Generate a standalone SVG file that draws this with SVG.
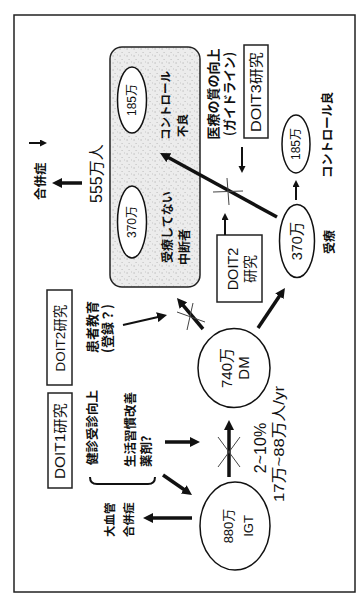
<svg xmlns="http://www.w3.org/2000/svg" width="361" height="596" viewBox="0 0 361 596">
<style>
.t{font-family:"Liberation Sans","Noto Sans CJK JP",sans-serif;fill:#111;dominant-baseline:central}
.j{font-family:"Noto Sans CJK JP",sans-serif;fill:#111;font-weight:700;dominant-baseline:central}
.c{text-anchor:middle}
.box{fill:#fff;stroke:#222;stroke-width:1.5}
.el{fill:#fff;stroke:#111;stroke-width:1.5}
.thick{stroke:#111;stroke-width:3.5;fill:none}
.thin{stroke:#111;stroke-width:2;fill:none}
.x{stroke:#444;stroke-width:1;fill:none}
</style>
<defs>
<pattern id="stip" width="7" height="7" patternUnits="userSpaceOnUse">
<rect width="7" height="7" fill="#ececec"/>
<circle cx="1" cy="1" r="0.6" fill="#999"/>
<circle cx="4.5" cy="3" r="0.5" fill="#aaa"/>
<circle cx="2" cy="5.5" r="0.5" fill="#bbb"/>
</pattern>
<marker id="ah" markerUnits="userSpaceOnUse" markerWidth="11" markerHeight="10" refX="2" refY="5" orient="auto">
<path d="M0,0 L10,5 L0,10 z" fill="#111"/>
</marker>
<marker id="as" markerUnits="userSpaceOnUse" markerWidth="8" markerHeight="8" refX="1" refY="3.5" orient="auto">
<path d="M0,0 L7,3.5 L0,7 z" fill="#111"/>
</marker>
</defs>
<rect width="361" height="596" fill="#fff"/>
<g transform="translate(0,596) rotate(-90)">
<rect id="frame" x="4" y="14" width="577" height="341" fill="none" stroke="#222" stroke-width="1.5"/>

<g id="untreated-group">
<rect x="309" y="110" width="240" height="90" rx="12" fill="url(#stip)" stroke="#222" stroke-width="1.5"/>
</g>
<g id="poor-control">
<ellipse class="el" cx="496" cy="132" rx="33" ry="14.5"/>
<text class="t c" x="496" y="132" font-size="12">185万</text>
<text class="j" x="456" y="165" font-size="11.5">コントロール</text>
<text class="j" x="459" y="182" font-size="11.5">不良</text>
</g>
<g id="not-treated">
<ellipse class="el" cx="374" cy="132" rx="36" ry="14.5"/>
<text class="t c" x="374" y="132" font-size="12">370万</text>
<text class="j" x="333" y="166" font-size="12">受療してない</text>
<text class="j" x="331" y="183" font-size="12">中断者</text>
</g>
<g id="total555">
<text class="t" x="393" y="96" font-size="16">555万人</text>
</g>
<g id="complications">
<text class="j" x="396" y="39" font-size="12.5">合併症</text>
</g>
<g id="guideline">
<text class="j c" x="502" y="212" font-size="13">医療の質の向上</text>
<text class="j c" x="502" y="228" font-size="13" textLength="84" lengthAdjust="spacingAndGlyphs">(ガイドライン)</text>
</g>
<g id="doit3">
<rect class="box" x="458" y="244" width="93" height="24"/>
<text class="t c" x="504" y="256" font-size="14" textLength="80" lengthAdjust="spacingAndGlyphs">DOIT3研究</text>
</g>
<g id="doit2-right">
<rect class="box" x="294" y="217" width="67" height="45"/>
<text class="t c" x="327" y="233" font-size="14.5">DOIT2</text>
<text class="t c" x="327" y="250" font-size="14">研究</text>
</g>
<g id="treated">
<ellipse class="el" cx="355" cy="297" rx="36.5" ry="17.5"/>
<text class="t c" x="355" y="297" font-size="14.5">370万</text>
<text class="j" x="342" y="328" font-size="12">受療</text>
</g>
<g id="good-control">
<ellipse class="el" cx="452" cy="296" rx="29" ry="14"/>
<text class="t c" x="452" y="296" font-size="12">185万</text>
<text class="j" x="418" y="327" font-size="12.3">コントロール良</text>
</g>
<g id="doit2-left">
<rect class="box" x="211" y="47" width="95" height="25"/>
<text class="t c" x="258" y="60" font-size="13.5">DOIT2研究</text>
</g>
<g id="education">
<text class="j" x="243" y="91" font-size="13">患者教育</text>
<text class="j" x="243" y="106" font-size="13">(登録？)</text>
</g>
<g id="dm">
<ellipse class="el" cx="228" cy="234" rx="39.5" ry="36"/>
<text class="t c" x="228" y="226" font-size="15">740万</text>
<text class="t c" x="228" y="243" font-size="15">DM</text>
</g>
<g id="doit1">
<rect class="box" x="108" y="48" width="95" height="24"/>
<text class="t c" x="155" y="60" font-size="14" textLength="76" lengthAdjust="spacingAndGlyphs">DOIT1研究</text>
</g>
<g id="screening">
<text class="j" x="131" y="91" font-size="12.5">健診受診向上</text>
</g>
<g id="lifestyle">
<text class="j" x="129" y="129" font-size="12.5">生活習慣改善</text>
<text class="j" x="129" y="145" font-size="12.5">薬剤?</text>
</g>
<g id="rate">
<text class="t c" x="148" y="260" font-size="16">2~10%</text>
<text class="t c" x="152" y="278" font-size="15" textLength="116" lengthAdjust="spacingAndGlyphs">17万~88万人/yr</text>
</g>
<g id="igt">
<ellipse class="el" cx="70" cy="235" rx="44" ry="35"/>
<text class="t c" x="70" y="228" font-size="13">880万</text>
<text class="t c" x="70" y="248" font-size="13">IGT</text>
</g>
<g id="macro">
<text class="j" x="59" y="109" font-size="11.5">大血管</text>
<text class="j" x="59" y="128" font-size="11.5">合併症</text>
</g>

<g id="connectors">
<line class="thin" x1="453" y1="29" x2="453" y2="41" stroke-width="2.5" marker-end="url(#as)"/>
<line class="thick" x1="413" y1="82" x2="413" y2="60" marker-end="url(#ah)"/>
<line class="thin" x1="449" y1="242" x2="429" y2="242" marker-end="url(#as)"/>
<line class="thick" x1="379" y1="277" x2="439.2" y2="167" marker-end="url(#ah)"/>
<line class="x" x1="404" y1="213" x2="405" y2="243"/>
<line class="x" x1="391" y1="229" x2="418" y2="227"/>
<line class="thin" x1="361" y1="225" x2="377" y2="225" marker-end="url(#as)"/>
<line class="thin" x1="396" y1="296" x2="410" y2="296" marker-end="url(#as)"/>
<line class="thin" x1="271" y1="123" x2="279.2" y2="159.2" marker-end="url(#ah)"/>
<line class="thick" x1="267" y1="203" x2="291.9" y2="182.1" marker-end="url(#ah)"/>
<line class="x" x1="284" y1="177" x2="274" y2="205"/>
<line class="x" x1="293" y1="193" x2="266" y2="187"/>
<line class="thick" x1="268" y1="258" x2="301.4" y2="280.5" marker-end="url(#ah)"/>
<path class="thin" d="M119,90 Q112,90 112,97 L112,148 Q112,155 119,155" stroke-width="1.3"/>
<line class="thick" x1="121" y1="163" x2="105.5" y2="185.4" marker-end="url(#ah)"/>
<line class="thick" x1="154" y1="165" x2="154" y2="192" marker-end="url(#ah)"/>
<line class="thick" x1="119" y1="229" x2="168" y2="229" marker-end="url(#ah)"/>
<line class="x" x1="159" y1="218" x2="129" y2="240"/>
<line class="x" x1="159" y1="240" x2="129" y2="218"/>
<line class="thick" x1="78" y1="192" x2="78" y2="151" marker-end="url(#ah)"/>
</g>
</g>
</svg>
